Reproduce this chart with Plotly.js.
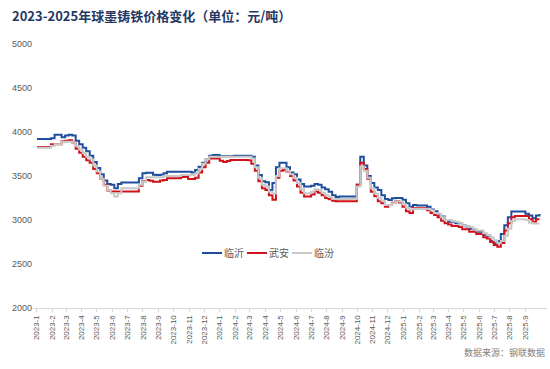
<!DOCTYPE html>
<html><head><meta charset="utf-8">
<script src="https://cdn.plot.ly/plotly-3.0.1.min.js"></script>
<style>html,body{margin:0;padding:0;background:#fff}#c{width:550px;height:369px}</style>
</head><body><div id="c"></div>
<script>
// weekly observations, first week 2023-01-02, last 2025-09-29
const startDate = '2023-01-02';
const linyi = [3920,3920,3920,3920,3930,3970,3970,3940,3960,3970,
3960,3900,3860,3820,3780,3730,3660,3590,3520,3450,
3410,3400,3360,3410,3425,3425,3425,3425,3425,3474,
3530,3538,3538,3515,3511,3515,3530,3549,3549,3549,
3549,3549,3549,3549,3540,3568,3606,3650,3690,3731,
3739,3739,3725,3725,3725,3725,3731,3731,3731,3731,
3731,3720,3620,3510,3440,3430,3340,3420,3600,3650,
3650,3600,3540,3520,3460,3410,3381,3381,3390,3410,
3400,3370,3350,3320,3280,3260,3266,3266,3266,3266,
3266,3400,3720,3620,3500,3420,3370,3340,3280,3240,
3227,3246,3250,3250,3230,3190,3151,3170,3166,3166,
3166,3150,3120,3100,3060,3041,3000,2980,2980,2962,
2962,2940,2925,2900,2894,2867,2867,2830,2820,2760,
2735,2760,2840,2940,3030,3098,3098,3098,3098,3070,
3050,3019,3050,3068];
const wuan = [3830,3830,3830,3830,3860,3860,3860,3895,3900,3905,
3880,3810,3765,3720,3680,3650,3580,3530,3470,3400,
3335,3324,3324,3324,3324,3324,3324,3324,3324,3390,
3440,3455,3445,3435,3435,3450,3455,3474,3474,3474,
3474,3490,3490,3465,3465,3480,3540,3600,3650,3700,
3700,3700,3674,3660,3670,3682,3682,3682,3682,3682,
3680,3640,3560,3440,3360,3340,3280,3230,3480,3560,
3568,3550,3500,3450,3380,3310,3266,3266,3290,3324,
3310,3280,3250,3235,3220,3212,3212,3212,3212,3212,
3212,3400,3650,3580,3470,3320,3270,3212,3190,3151,
3170,3195,3212,3200,3151,3100,3080,3133,3133,3133,
3133,3110,3080,3057,3030,2992,2962,2950,2932,2932,
2920,2894,2894,2867,2867,2841,2841,2803,2790,2750,
2716,2697,2740,2880,2962,3030,3045,3045,3045,3045,
3008,2980,3008,3008];
const linfen = [3822,3822,3822,3822,3840,3860,3860,3890,3890,3890,
3880,3840,3800,3760,3720,3690,3620,3550,3470,3390,
3340,3303,3266,3303,3360,3360,3360,3360,3360,3400,
3435,3485,3485,3485,3485,3485,3500,3500,3500,3500,
3500,3510,3510,3510,3510,3530,3580,3640,3690,3720,
3720,3720,3720,3720,3720,3720,3720,3720,3720,3720,
3720,3700,3600,3480,3400,3380,3320,3300,3500,3587,
3587,3560,3520,3480,3420,3350,3303,3303,3320,3350,
3340,3310,3280,3260,3240,3239,3239,3239,3239,3239,
3239,3380,3610,3560,3480,3360,3300,3250,3220,3170,
3170,3190,3210,3210,3180,3140,3120,3125,3125,3125,
3125,3125,3110,3080,3070,3030,3000,3000,2990,2980,
2970,2940,2930,2920,2900,2880,2880,2850,2830,2800,
2770,2740,2760,2820,2900,2990,3008,3008,3008,3000,
2970,2960,2960,2960];
const seriesNames = ['临沂','武安','临汾'];
const seriesColors = ['#1f4e9c','#d0121b','#c8c8c8'];
const monthTickVals = [];
const monthTickText = [];
for (let y = 2023; y <= 2025; y++) {
  for (let m = 1; m <= 12; m++) {
    if (y === 2025 && m > 9) break;
    monthTickVals.push(y + '-' + String(m).padStart(2,'0') + '-01');
    monthTickText.push(y + '-' + m);
  }
}
const dates = [];
const d0 = new Date(startDate + 'T00:00:00Z');
for (let i = 0; i < linyi.length; i++) {
  const d = new Date(d0.getTime() + i * 7 * 86400000);
  dates.push(d.toISOString().slice(0,10));
}
const vals = [linyi, wuan, linfen];
const traces = vals.map((v, i) => ({
  x: dates, y: v, type: 'scatter', mode: 'lines', name: seriesNames[i],
  line: {color: seriesColors[i], width: 2, shape: 'hv'}
}));
const font = 'Liberation Sans, Arial, sans-serif';
const layout = {
  width: 550, height: 369,
  margin: {l: 33, r: 3, t: 44, b: 61},
  paper_bgcolor: '#fff', plot_bgcolor: '#fff',
  title: {text: '<b>2023-2025年球墨铸铁价格变化（单位：元/吨）</b>',
    font: {family: 'Noto Sans CJK SC, sans-serif', size: 13, color: '#1f3864'},
    x: 0, xref: 'paper', xanchor: 'left', y: 0.955, yanchor: 'middle', pad: {l: -21}},
  xaxis: {type: 'date', range: ['2022-12-25','2025-10-14'],
    tickmode: 'array', tickvals: monthTickVals, ticktext: monthTickText,
    tickangle: -90, tickfont: {family: font, size: 8, color: '#595959'},
    showgrid: false, zeroline: false, showline: true, linecolor: '#d9d9d9', linewidth: 1,
    ticks: 'outside', ticklen: 3, tickcolor: '#d9d9d9'},
  yaxis: {range: [2000, 5000], tickvals: [2000,2500,3000,3500,4000,4500,5000],
    tickfont: {family: font, size: 9, color: '#595959'},
    showgrid: false, zeroline: false, showline: false, ticks: ''},
  showlegend: true,
  legend: {orientation: 'h', x: 0.47, xanchor: 'center', y: 0.208, yanchor: 'middle',
    font: {family: 'Noto Sans CJK SC, sans-serif', size: 10, color: '#595959'},
    bgcolor: 'rgba(0,0,0,0)', itemwidth: 30, tracegroupgap: 0},
  annotations: [{text: '数据来源：钢联数据', xref: 'paper', yref: 'paper',
    x: 1, xanchor: 'right', y: -0.17, yanchor: 'middle', showarrow: false,
    font: {family: 'Noto Sans CJK SC, sans-serif', size: 9, color: '#7f7f7f'}}]
};
Plotly.newPlot('c', traces, layout, {displayModeBar: false, staticPlot: true}).then(gd => {
  try {
    // compact legend: shorter line samples and tighter spacing
    const items = gd.querySelectorAll('.legend .traces');
    items.forEach((g, i) => {
      const tr = g.getAttribute('transform') || '';
      const m = tr.match(/translate\(\s*([-\d.]+)[ ,]+([-\d.]+)\s*\)/);
      const ty = m ? parseFloat(m[2]) : 0;
      g.setAttribute('transform', 'translate(' + (i * 45) + ',' + ty + ')');
      g.querySelectorAll('path.js-line').forEach(p => p.setAttribute('d', 'M5,0h20'));
      const t = g.querySelector('text.legendtext');
      if (t) t.setAttribute('x', 27);
    });
    const first = gd.querySelector('.legend .traces path.js-line');
    const lg = gd.querySelector('g.legend');
    if (first && lg) {
      const r = first.getBoundingClientRect();
      const host = gd.getBoundingClientRect();
      const dx = 202 - (r.left - host.left);
      const tr = lg.getAttribute('transform') || '';
      const m = tr.match(/translate\(\s*([-\d.]+)[ ,]+([-\d.]+)\s*\)/);
      if (m) lg.setAttribute('transform', 'translate(' + (parseFloat(m[1]) + dx) + ',' + m[2] + ')');
    }
  } catch (e) {}
});
</script></body></html>
